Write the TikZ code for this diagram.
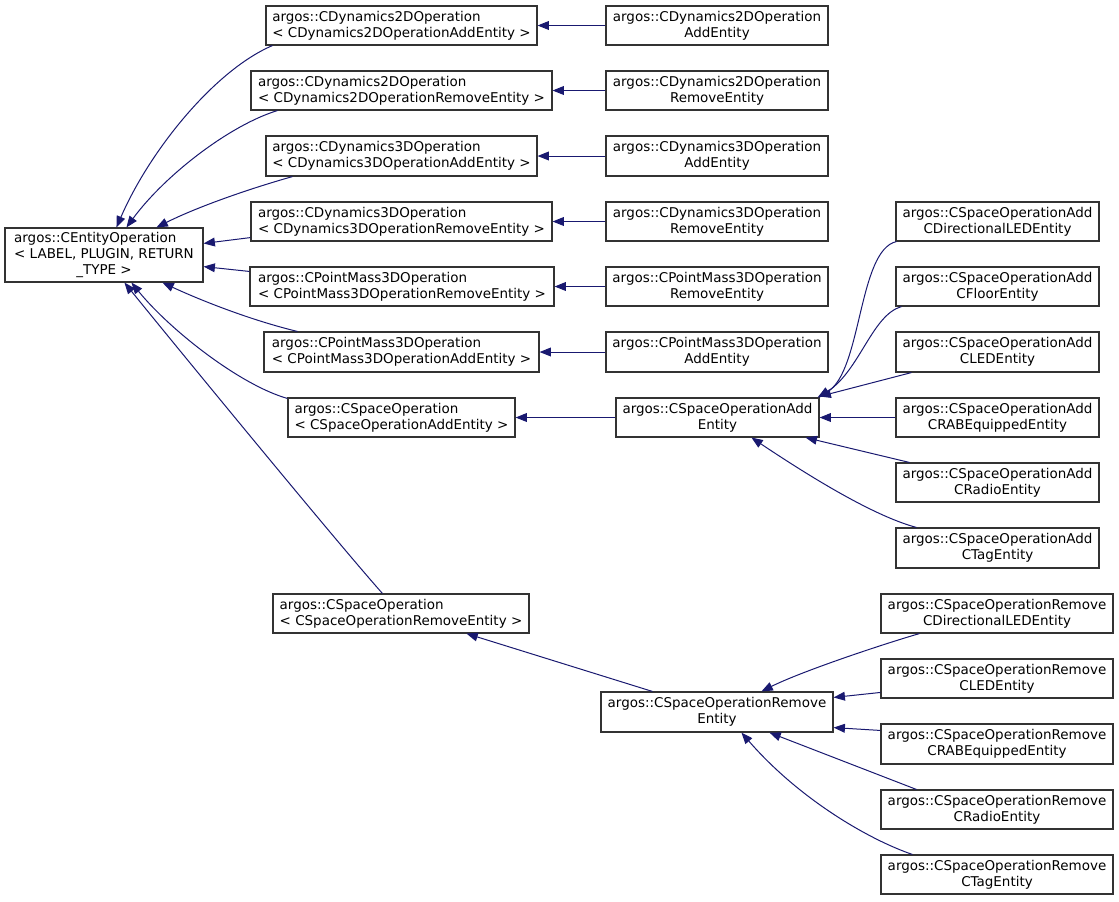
\documentclass[tikz,border=0pt]{standalone}
\usepackage{fontspec}
\setmainfont{DejaVu Sans}
\usetikzlibrary{arrows.meta,calc}
\definecolor{edgeblue}{HTML}{191970}
\definecolor{boxline}{HTML}{333333}
\newcommand\bx[7][center]{%
 \pgfmathsetmacro\cxx{(#3+#5)/2}\pgfmathsetmacro\cyy{(#4+#6)/2}%
 \pgfmathsetmacro\ww{(#5-#3)*0.75}\pgfmathsetmacro\hh{(#6-#4)*0.75}%
 \node[cls, align=#1, minimum width=\ww pt, minimum height=\hh pt] (#2) at (\cxx,\cyy) {#7};}
\begin{document}
\begin{tikzpicture}[x=0.75pt,y=-0.75pt,
  cls/.style={draw=boxline, line width=0.85pt, fill=white, inner sep=1pt,
    font=\fontsize{10.1pt}{12pt}\selectfont},
  edge/.style={draw=edgeblue, line width=0.75pt,
    -{Triangle[length=8.5pt,width=6.6pt,fill=edgeblue]}}]
\useasboundingbox (0,0) rectangle (1119,901);
% root
\bx{ceo}{5}{228}{203}{282}{\begin{tabular}{@{}l@{}}argos::CEntityOperation\\ < LABEL, PLUGIN, RETURN\\ \multicolumn{1}{@{}c@{}}{\_TYPE >}\end{tabular}}
% column 2
\bx[left]{d2a}{266}{6}{537}{45}{argos::CDynamics2DOperation\\ < CDynamics2DOperationAddEntity >}
\bx[left]{d2r}{251}{71}{552}{110}{argos::CDynamics2DOperation\\ < CDynamics2DOperationRemoveEntity >}
\bx[left]{d3a}{266}{136}{537}{176}{argos::CDynamics3DOperation\\ < CDynamics3DOperationAddEntity >}
\bx[left]{d3r}{251}{202}{552}{241}{argos::CDynamics3DOperation\\ < CDynamics3DOperationRemoveEntity >}
\bx[left]{pmr}{250}{267}{554}{306}{argos::CPointMass3DOperation\\ < CPointMass3DOperationRemoveEntity >}
\bx[left]{pma}{264}{332}{539}{372}{argos::CPointMass3DOperation\\ < CPointMass3DOperationAddEntity >}
\bx[left]{csoa}{288}{398}{515}{437}{argos::CSpaceOperation\\ < CSpaceOperationAddEntity >}
\bx[left]{csor}{273}{594}{529}{633}{argos::CSpaceOperation\\ < CSpaceOperationRemoveEntity >}
% column 3
\bx{d2aE}{606}{6}{828}{45}{argos::CDynamics2DOperation\\ AddEntity}
\bx{d2rE}{606}{71}{828}{110}{argos::CDynamics2DOperation\\ RemoveEntity}
\bx{d3aE}{606}{136}{828}{176}{argos::CDynamics3DOperation\\ AddEntity}
\bx{d3rE}{606}{202}{828}{241}{argos::CDynamics3DOperation\\ RemoveEntity}
\bx{pmrE}{606}{267}{828}{306}{argos::CPointMass3DOperation\\ RemoveEntity}
\bx{pmaE}{606}{332}{828}{372}{argos::CPointMass3DOperation\\ AddEntity}
\bx{csa}{616}{398}{819}{437}{argos::CSpaceOperationAdd\\ Entity}
\bx{csr}{601}{692}{833}{732}{argos::CSpaceOperationRemove\\ Entity}
% column 4 add
\bx{a1}{896}{202}{1099}{241}{argos::CSpaceOperationAdd\\ CDirectionalLEDEntity}
\bx{a2}{896}{267}{1099}{306}{argos::CSpaceOperationAdd\\ CFloorEntity}
\bx{a3}{896}{332}{1099}{372}{argos::CSpaceOperationAdd\\ CLEDEntity}
\bx{a4}{896}{398}{1099}{437}{argos::CSpaceOperationAdd\\ CRABEquippedEntity}
\bx{a5}{896}{463}{1099}{502}{argos::CSpaceOperationAdd\\ CRadioEntity}
\bx{a6}{896}{528}{1099}{568}{argos::CSpaceOperationAdd\\ CTagEntity}
% column 4 remove
\bx{r1}{881}{594}{1113}{633}{argos::CSpaceOperationRemove\\ CDirectionalLEDEntity}
\bx{r2}{881}{659}{1113}{698}{argos::CSpaceOperationRemove\\ CLEDEntity}
\bx{r3}{881}{724}{1113}{764}{argos::CSpaceOperationRemove\\ CRABEquippedEntity}
\bx{r4}{881}{790}{1113}{829}{argos::CSpaceOperationRemove\\ CRadioEntity}
\bx{r5}{881}{855}{1113}{894}{argos::CSpaceOperationRemove\\ CTagEntity}
% edges to root
\draw[edge] ($(d2a.south west)+(7,0)$) .. controls (215,70) and (150,150) .. ($(ceo.north west)+(112,0)$);
\draw[edge] ($(d2r.south west)+(27,0)$) .. controls (230,125) and (165,175) .. ($(ceo.north west)+(122,0)$);
\draw[edge] ($(d3a.south west)+(27,0)$) .. controls (245,190) and (195,208) .. ($(ceo.north west)+(152,0)$);
\draw[edge] ($(d3r.south west)+(0,-4)$) -- ($(ceo.north east)+(0,16)$);
\draw[edge] ($(pmr.north west)+(0,5)$) -- ($(ceo.south east)+(0,-16)$);
\draw[edge] ($(pma.north west)+(34,0)$) .. controls (250,320) and (200,300) .. ($(ceo.south west)+(158,0)$);
\draw[edge] ($(csoa.north west)+(0,1)$) .. controls (240,385) and (170,330) .. ($(ceo.south west)+(127,0)$);
\draw[edge] ($(csor.north west)+(110,0)$) .. controls (335,540) and (175,345) .. ($(ceo.south west)+(120,0)$);
% horizontal
\draw[edge] (d2aE.west) -- (d2a.east);
\draw[edge] (d2rE.west) -- (d2r.east);
\draw[edge] (d3aE.west) -- (d3a.east);
\draw[edge] (d3rE.west) -- (d3r.east);
\draw[edge] (pmrE.west) -- (pmr.east);
\draw[edge] (pmaE.west) -- (pma.east);
\draw[edge] (csa.west) -- (csoa.east);
\draw[edge] ($(csr.north west)+(52,0)$) -- ($(csor.south west)+(194,0)$);
% add children
\draw[edge] ($(a1.south west)+(1,0)$) .. controls (858,250) and (862,372) .. ($(csa.north east)+(-2,0)$);
\draw[edge] ($(a2.south west)+(6,0)$) .. controls (872,315) and (860,370) .. ($(csa.north east)+(-1,0)$);
\draw[edge] ($(a3.south west)+(16,0)$) -- ($(csa.north east)+(0,-1)$);
\draw[edge] (a4.west) -- (csa.east);
\draw[edge] ($(a5.north west)+(14,0)$) -- ($(csa.south east)+(-14,0)$);
\draw[edge] ($(a6.north west)+(21,0)$) .. controls (870,515) and (800,470) .. ($(csa.south west)+(136,0)$);
% remove children
\draw[edge] ($(r1.south west)+(39,0)$) .. controls (880,645) and (800,672) .. ($(csr.north west)+(161,0)$);
\draw[edge] ($(r2.north west)+(0,34)$) -- ($(csr.north east)+(0,6)$);
\draw[edge] ($(r3.north west)+(0,7)$) -- ($(csr.south east)+(0,-5)$);
\draw[edge] ($(r4.north west)+(36,0)$) -- ($(csr.south west)+(169,0)$);
\draw[edge] ($(r5.north west)+(32,0)$) .. controls (870,840) and (800,800) .. ($(csr.south west)+(141,0)$);
\end{tikzpicture}
\end{document}
